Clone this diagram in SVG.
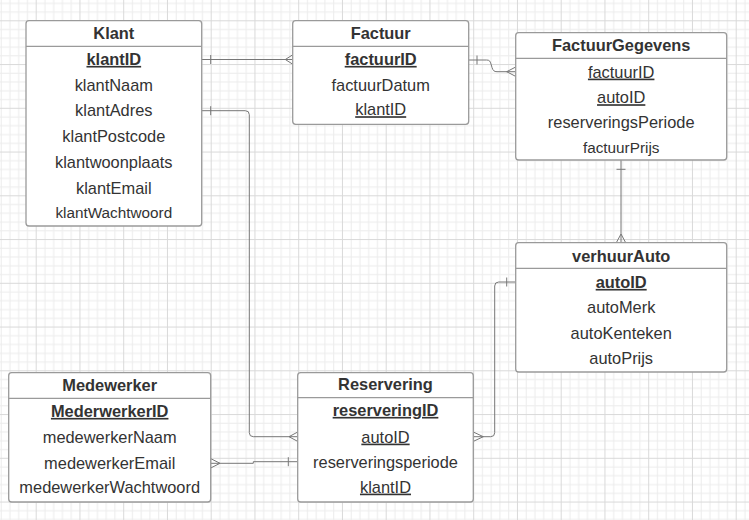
<svg xmlns="http://www.w3.org/2000/svg" width="749" height="520" viewBox="0 0 749 520">
<defs>
<pattern id="grid" x="35.7" y="20.3" width="43.75" height="43.75" patternUnits="userSpaceOnUse">
<path d="M9.25 0V43.75M18 0V43.75M26.75 0V43.75M35.5 0V43.75M0 9.25H43.75M0 18H43.75M0 26.75H43.75M0 35.5H43.75" stroke="#ececec" stroke-width="1" fill="none"/>
<path d="M0.5 0V43.75M0 0.5H43.75" stroke="#d9d9d9" stroke-width="1" fill="none"/>
</pattern>
<style>
.box{fill:#ffffff;stroke:#9a9a9a;stroke-width:1.3}
.div{stroke:#9a9a9a;stroke-width:1.3}
.t{font-family:"Liberation Sans",Arial,sans-serif;font-size:16.4px;fill:#333333;text-anchor:middle}
.h{font-weight:bold}
.u{text-decoration:underline}
.s{font-size:15.3px}
.c{fill:none;stroke:#777777;stroke-width:1}
</style>
</defs>
<rect width="749" height="520" fill="#ffffff"/>
<rect width="749" height="520" fill="url(#grid)"/>

<g id="connectors">
<path class="c" d="M201.7,59.5 H292.7 M210.7,55 V64 M292.7,54.8 L285.3,59.5 L292.7,64.2"/>
<path class="c" d="M201.7,110.7 H245.3 Q249.3,110.7 249.3,114.7 V432.7 Q249.3,436.7 253.3,436.7 H297.7 M210.7,106.2 V115.2 M297.7,432 L289,436.7 L297.7,441.4"/>
<path class="c" d="M468.7,60 H486.5 C489.5,60 490,61 491,64 L492,67.5 C493,70.5 494,71.7 497,71.7 H515.7 M477,55.5 V64.5 M515.7,67 L506.7,71.7 L515.7,76.4"/>
<path class="c" d="M621,160 V242.7 M616.5,169.3 H625.5 M616.3,242.7 L621,234 L625.7,242.7"/>
<path class="c" d="M515.7,282 H498.7 Q494.7,282 494.7,286 V432.7 Q494.7,436.7 490.7,436.7 H473.3 M506.7,277.5 V286.5 M473.3,432 L483.3,436.7 L473.3,441.4"/>
<path class="c" d="M210.7,463.3 H253.3 V461.7 H297.7 M288.3,457.2 V466.2 M210.7,458.6 L220,463.3 L210.7,468"/>
</g>

<g id="klant">
<rect class="box" x="26" y="20.7" width="175.7" height="205.3" rx="3"/>
<line class="div" x1="26" y1="46.3" x2="201.7" y2="46.3"/>
<text class="t h" x="113.8" y="38.6">Klant</text>
<text class="t h u" x="113.8" y="64.9">klantID</text>
<text class="t" x="113.8" y="90.9">klantNaam</text>
<text class="t" x="113.8" y="116">klantAdres</text>
<text class="t" x="113.8" y="141.9">klantPostcode</text>
<text class="t" x="113.8" y="167.9">klantwoonplaats</text>
<text class="t" x="113.8" y="193.6">klantEmail</text>
<text class="t s" x="113.8" y="218.4">klantWachtwoord</text>
</g>

<g id="factuur">
<rect class="box" x="292.7" y="20.7" width="176" height="103.6" rx="3"/>
<line class="div" x1="292.7" y1="46.3" x2="468.7" y2="46.3"/>
<text class="t h" x="380.7" y="38.6">Factuur</text>
<text class="t h u" x="380.7" y="64.9">factuurID</text>
<text class="t" x="380.7" y="90.9">factuurDatum</text>
<text class="t u" x="380.7" y="115.2">klantID</text>
</g>

<g id="factuurgegevens">
<rect class="box" x="515.7" y="32.7" width="211" height="127.3" rx="3"/>
<line class="div" x1="515.7" y1="58.3" x2="726.7" y2="58.3"/>
<text class="t h" x="621.2" y="50.9">FactuurGegevens</text>
<text class="t u" x="621.2" y="77.6">factuurID</text>
<text class="t u" x="621.2" y="103.2">autoID</text>
<text class="t" x="621.2" y="127.6">reserveringsPeriode</text>
<text class="t s" x="621.2" y="152.8">factuurPrijs</text>
</g>

<g id="verhuurauto">
<rect class="box" x="515.7" y="242.7" width="211" height="129.3" rx="3"/>
<line class="div" x1="515.7" y1="268.3" x2="726.7" y2="268.3"/>
<text class="t h" x="621.2" y="261.6">verhuurAuto</text>
<text class="t h u" x="621.2" y="287.9">autoID</text>
<text class="t" x="621.2" y="312.6">autoMerk</text>
<text class="t" x="621.2" y="338.9">autoKenteken</text>
<text class="t" x="621.2" y="364.2">autoPrijs</text>
</g>

<g id="medewerker">
<rect class="box" x="8.7" y="372.7" width="202" height="129.3" rx="3"/>
<line class="div" x1="8.7" y1="398.3" x2="210.7" y2="398.3"/>
<text class="t h" x="109.7" y="390.9">Medewerker</text>
<text class="t h u" x="109.7" y="416.9">MederwerkerID</text>
<text class="t" x="109.7" y="443.2">medewerkerNaam</text>
<text class="t" x="109.7" y="468.6">medewerkerEmail</text>
<text class="t" x="109.7" y="493.2">medewerkerWachtwoord</text>
</g>

<g id="reservering">
<rect class="box" x="297.7" y="372.7" width="175.6" height="129.3" rx="3"/>
<line class="div" x1="297.7" y1="397.7" x2="473.3" y2="397.7"/>
<text class="t h" x="385.5" y="389.9">Reservering</text>
<text class="t h u" x="385.5" y="415.9">reserveringID</text>
<text class="t u" x="385.5" y="442.6">autoID</text>
<text class="t" x="385.5" y="467.6">reserveringsperiode</text>
<text class="t u" x="385.5" y="492.6">klantID</text>
</g>
</svg>
